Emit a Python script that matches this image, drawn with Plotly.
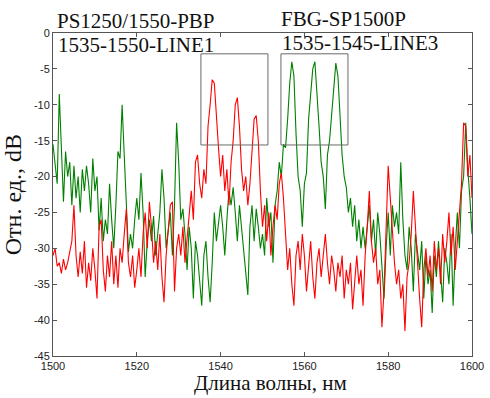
import plotly.graph_objects as go

wavelength_start = 1500.0
wavelength_step = 0.5

red_values = [
    -31, -30, -32.5, -32, -33.5, -31.5, -33, -32, -30.5, -29,
    -24, -31, -34, -30.5, -33.5, -29, -35.5, -32, -34.5, -30,
    -33, -37, -27, -26, -33, -36, -31, -34, -29, -35,
    -31, -35.5, -30, -32, -28, -24.5, -32, -34, -31, -35.5,
    -33, -30, -34, -28, -25, -30, -23.5, -27, -32, -29,
    -33, -28, -34, -37.5, -31, -27, -24, -23.5, -36, -30,
    -28, -31, -27, -32, -29, -25, -22, -26, -18, -17,
    -21, -23, -19, -21, -13, -10, -6.5, -7, -12, -16,
    -20, -17, -22, -19, -24, -18, -15, -10, -9, -13,
    -19, -22, -20, -24, -21, -16, -12, -11.5, -15, -22,
    -27, -24, -29, -25, -31, -27, -24, -26, -21, -19.5,
    -23, -28, -33, -30, -35, -38, -31, -29, -33, -28,
    -31, -36, -33, -29, -34, -37, -32, -30, -34, -31,
    -28, -32, -35, -31, -33, -36, -32, -34, -31, -37,
    -33, -35, -32, -38.5, -34, -31, -35, -33, -38, -31,
    -27, -22, -29, -32, -30, -35, -33, -41, -36, -26,
    -18.5, -23, -28, -32, -35, -33, -37, -35, -41.5, -34,
    -32, -28, -22, -27, -33, -37, -41, -33, -30, -34,
    -31, -36, -29, -33, -30, -35, -28, -32, -29, -25,
    -31, -27, -33, -29, -26, -21, -12.5, -13, -20, -17,
    -23,
]

green_values = [
    -15.5, -18, -21, -8.5, -15, -23.5, -16.5, -20, -18, -24,
    -18.5, -23, -20, -25, -19, -22, -18.5, -21, -25, -17.5,
    -22, -20, -27.5, -23, -29, -26, -28, -21, -26, -30,
    -24, -16.5, -17.5, -10, -17, -25, -30.5, -28, -30, -26,
    -23, -26, -19.5, -25, -34, -29, -26, -29, -25.5, -31,
    -28, -25, -19, -23, -30, -27, -25, -31, -24, -12.5,
    -18, -26, -24.5, -28, -33, -27, -30, -37, -29, -31,
    -35, -38, -31, -29, -34, -37.5, -32, -25, -29, -26,
    -24, -27, -31, -26, -22, -24, -21.5, -25, -29, -24,
    -27, -30, -33, -36.5, -27, -24, -29, -24.5, -27, -30,
    -28, -31, -23, -27, -25, -32, -24, -22, -18, -20,
    -15.5, -16, -12, -7, -4, -6, -14, -20, -22, -27,
    -21, -19.5, -12, -9, -5, -4, -8, -13, -18, -20,
    -24.5, -17, -15, -11, -8, -4.2, -6, -11, -17, -20,
    -21.5, -25, -23, -27, -24, -29, -26, -30, -27, -30,
    -27, -24, -29, -26, -31, -25, -28, -32, -37, -30,
    -25, -31, -24, -27, -25, -28, -18, -26, -31, -33,
    -27, -30, -36, -28, -31, -33, -29, -37, -31, -35,
    -33, -39, -31, -34, -29, -33, -37.5, -30, -32, -35,
    -28, -38, -30, -25, -30, -22, -20, -12.5, -19, -23,
    -28,
]

wavelengths = [wavelength_start + i * wavelength_step for i in range(len(red_values))]

x_ticks = [1500, 1520, 1540, 1560, 1580, 1600]
y_ticks = [0, -5, -10, -15, -20, -25, -30, -35, -40, -45]

labels = ["PS1250/1550-PBP", "1535-1550-LINE1", "FBG-SP1500P", "1535-1545-LINE3"]
x_title = "Длина волны, нм"
y_title = "Отн. ед., dB"

fig = go.Figure()
fig.add_trace(go.Scatter(x=wavelengths, y=green_values, mode="lines",
                         line=dict(color="#008000", width=1.1), showlegend=False))
fig.add_trace(go.Scatter(x=wavelengths, y=red_values, mode="lines",
                         line=dict(color="#ff0000", width=1.1), showlegend=False))

box_style = dict(type="rect", xref="x", yref="y", line=dict(color="#6a6a6a", width=1),
                 fillcolor="rgba(0,0,0,0)")
fig.add_shape(x0=1535.3, x1=1551.3, y0=-15.6, y1=-2.9, **box_style)
fig.add_shape(x0=1554.4, x1=1570.4, y0=-15.6, y1=-2.9, **box_style)

serif = dict(family="Liberation Serif", size=21, color="#111111")
ann_pos = [(0.004, 1.036), (0.008, 0.962), (0.539, 1.044), (0.542, 0.969)]
for text, (px, py) in zip(labels, ann_pos):
    fig.add_annotation(text=text, x=px, y=py, xref="paper", yref="paper",
                       xanchor="left", yanchor="middle", showarrow=False, font=serif)

fig.add_annotation(text=x_title, x=0.518, y=-0.084, xref="paper", yref="paper",
                   xanchor="center", yanchor="middle", showarrow=False, font=serif)
fig.add_annotation(text=y_title, x=-0.096, y=0.5, xref="paper", yref="paper",
                   xanchor="center", yanchor="middle", showarrow=False,
                   font=dict(family="Liberation Serif", size=24, color="#111111"),
                   textangle=-90)

axis_common = dict(showline=True, linecolor="#555555", linewidth=1, mirror="ticks",
                   ticks="inside", ticklen=4, tickcolor="#555555", showgrid=False,
                   zeroline=False, automargin=False,
                   tickfont=dict(family="Liberation Sans", size=11, color="#222222"))

fig.update_xaxes(range=[1500, 1600], tickvals=x_ticks, ticktext=[str(t) for t in x_ticks],
                 **axis_common)
fig.update_yaxes(range=[-45, 0], tickvals=y_ticks, ticktext=[str(t) for t in y_ticks],
                 **axis_common)

fig.update_layout(width=490, height=398, margin=dict(l=53, r=18, t=33, b=42),
                  plot_bgcolor="white", paper_bgcolor="white")

fig.write_html("out.html", config={"displayModeBar": False},
               post_script="document.body.style.margin='0';document.body.style.overflow='hidden';")
